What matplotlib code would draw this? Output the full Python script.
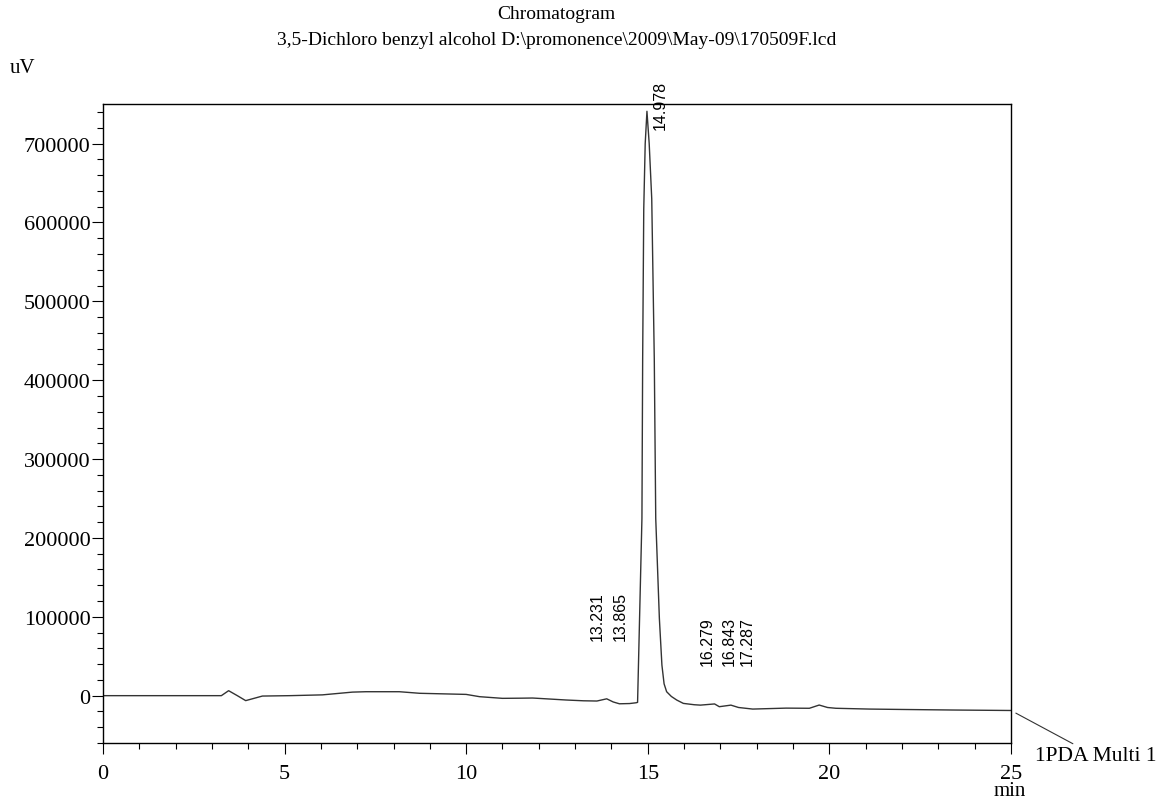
import matplotlib
matplotlib.use("Agg")
import matplotlib.pyplot as plt
from matplotlib.ticker import MultipleLocator

# retention time (min) and detector signal (uV)
time = [0.0, 3.26, 3.46, 3.70, 3.93, 4.39, 5.14, 6.04, 6.87, 7.24, 8.16,
        8.72, 10.0, 10.37, 11.0, 11.5, 11.83, 12.2, 12.75, 13.23, 13.6,
        13.87, 14.05, 14.22, 14.5, 14.68, 14.72, 14.84, 14.86, 14.89,
        14.93, 14.978, 15.04, 15.11, 15.18, 15.22, 15.32, 15.39, 15.45,
        15.52, 15.65, 15.80, 15.98, 16.28, 16.45, 16.84, 16.97, 17.29,
        17.5, 17.89, 18.81, 19.45, 19.72, 19.95, 20.18, 21.1, 22.0, 23.4,
        25.0]
signal = [0, 0, 6300, 0, -6300, -500, 0, 1000, 4500, 5000, 5000,
          3000, 1600, -1300, -3400, -3200, -3000, -4000, -5500, -6500, -6800,
          -4000, -8000, -10300, -10000, -9000, -8500, 224800, 427000, 617000,
          700000, 741000, 700000, 630000, 427000, 224800, 98000, 38800, 15000,
          5000, -1000, -5600, -9800, -11500, -12000, -10500, -14000, -12000,
          -15000, -17000, -15800, -16000, -11900, -15000, -16000, -17000, -17500, -18200,
          -18800]

peak_rt = [13.231, 13.865, 14.978, 16.279, 16.843, 17.287]
peak_labels = ["13.231", "13.865", "14.978", "16.279", "16.843", "17.287"]
label_base = [71000, 71000, 719000, 39000, 39000, 39000]
label_shift = [0.37, 0.37, 0.37, 0.37, 0.41, 0.46]

title = "Chromatogram"
subtitle = "3,5-Dichloro benzyl alcohol D:\\promonence\\2009\\May-09\\170509F.lcd"

plt.rcParams["font.family"] = ["Liberation Serif", "DejaVu Serif"]

fig = plt.figure(figsize=(11.62, 8.03), dpi=100)
ax = fig.add_axes([0.0886, 0.0735, 0.7814, 0.7955])

ax.plot(time, signal, color="#333333", lw=1.0)

ax.set_xlim(0, 25)
ax.set_ylim(-60000, 750000)
ax.xaxis.set_major_locator(MultipleLocator(5))
ax.xaxis.set_minor_locator(MultipleLocator(1))
ax.yaxis.set_minor_locator(MultipleLocator(20000))
ax.set_yticks([0, 100000, 200000, 300000, 400000, 500000, 600000, 700000])
ax.tick_params(which="major", length=8, width=0.8, labelsize=16)
ax.tick_params(axis="x", which="major", pad=7)
ax.tick_params(axis="y", which="major", pad=1)
ax.tick_params(which="minor", length=4, width=0.8)
for s in ax.spines.values():
    s.set_linewidth(1.0)

# peak retention time labels
for rt, lab, yb, dx in zip(peak_rt, peak_labels, label_base, label_shift):
    ax.text(rt + dx, yb, lab, rotation=90, ha="center", va="bottom",
            fontsize=11.5, family=["Liberation Sans", "DejaVu Sans"])

# channel tag at trace end
ax.annotate("1PDA Multi 1", xy=(time[-1], signal[-1]), xytext=(1035, 46),
            textcoords="figure pixels", fontsize=15.5, ha="left", va="center",
            annotation_clip=False,
            arrowprops=dict(arrowstyle="-", color="#333333", lw=0.8,
                            shrinkA=0, shrinkB=4,
                            connectionstyle="arc3"))

fig.text(0.479, 0.993, title, ha="center", va="top", fontsize=14)
fig.text(0.479, 0.960, subtitle, ha="center", va="top", fontsize=14)
fig.text(0.008, 0.915, "uV", ha="left", va="center", fontsize=15)
fig.text(0.869, 0.002, "min", ha="center", va="bottom", fontsize=15)

fig.savefig("out.png", dpi=100)
